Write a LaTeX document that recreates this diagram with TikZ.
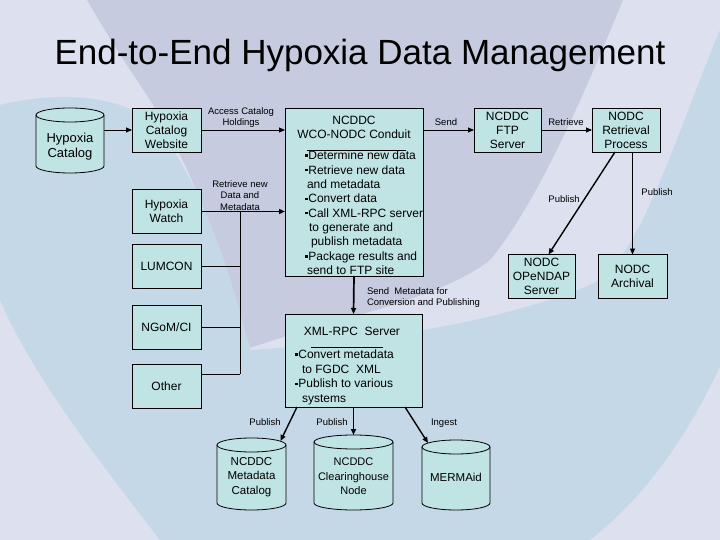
\documentclass[tikz,border=0pt]{standalone}
\usepackage{fontspec}
\setmainfont{Liberation Sans}
\usetikzlibrary{positioning, arrows.meta, calc}

\definecolor{boxfill}{RGB}{192,227,228}
\definecolor{bgpale}{RGB}{221,224,239}
\definecolor{bgmauve}{RGB}{198,203,224}
\definecolor{bgblue}{RGB}{197,216,231}
\pgfdeclarelayer{back}
\pgfdeclarelayer{drums}
\pgfsetlayers{back,drums,main}
\newcommand{\sqb}{\rule[2.6pt]{2.6pt}{2.6pt}\hspace{0.8pt}}
\newcommand{\dropped}[2]{\raisebox{-#1}[\height][\depth]{\begin{tabular}{@{}c@{}}#2\end{tabular}}}
\newcommand{\drumbody}[2]{%
  \begin{pgfonlayer}{drums}
    \draw[fill=boxfill,line width=0.8pt]([yshift=-7pt]#1.north west)--([yshift=7pt]#1.south west)
      arc[start angle=180,end angle=360,x radius=#2pt,y radius=7pt]--([yshift=-7pt]#1.north east)
      arc[start angle=0,end angle=180,x radius=#2pt,y radius=7pt]--cycle;
    \draw[line width=0.8pt]([yshift=-7pt]#1.north west)
      arc[start angle=180,end angle=360,x radius=#2pt,y radius=7pt];
  \end{pgfonlayer}}

\begin{document}
\begin{tikzpicture}[x=1pt,y=-1pt,every node/.style={inner sep=0,outer sep=0},
    box/.style={draw,fill=boxfill,line width=0.8pt,minimum width=69pt,minimum height=44pt,
                align=center,font=\fontsize{12}{14}\selectfont},
    drum/.style={align=center,font=\fontsize{11.5}{14.5}\selectfont},
    lbl/.style={align=center,font=\fontsize{9.5}{11.5}\selectfont},
    feed/.style={line width=0.8pt,-{Triangle[length=6pt,width=5pt]}},
    heavy/.style={line width=1.7pt,-{Triangle[length=6pt,width=5pt]}}]
      \useasboundingbox (0,0) rectangle (720,540);
      \begin{pgfonlayer}{back}
      \fill[bgpale] (0,0) rectangle (720,540);
      \fill[bgmauve] (87,0) .. controls (110,40) and (130,70) .. (150,100)
            .. controls (200,180) and (230,280) .. (250,348)
            .. controls (330,320) and (440,300) .. (490,260)
            .. controls (540,200) and (590,80) .. (623,0) -- cycle;
      \fill[bgblue] (0,105) .. controls (60,90) and (130,95) .. (160,130)
            .. controls (210,200) and (235,290) .. (250,350)
            .. controls (330,345) and (480,330) .. (590,285)
            .. controls (640,260) and (670,150) .. (720,30) -- (720,367)
            .. controls (680,450) and (640,500) .. (590,540) -- (160,540)
            .. controls (90,450) and (30,370) .. (0,300) -- cycle;
      \end{pgfonlayer}

      \node(title)[anchor=base,font=\fontsize{35}{40}\selectfont] at (360,65) {End-to-End Hypoxia Data Management};

      \node(hcat)[drum,minimum width=68pt,minimum height=65pt,font=\fontsize{13}{15}\selectfont] at (70,140.5) {\dropped{7pt}{Hypoxia\\Catalog}};
      \node(hweb)[box] at (166.5,130) {Hypoxia\\Catalog\\Website};
      \node(hwatch)[box] at (166.5,211.5) {Hypoxia\\Watch};
      \node(lumcon)[box,below=11pt of hwatch] {LUMCON};
      \node(ngom)[box,below=17pt of lumcon] {NGoM/CI};
      \node(other)[box,below=15pt of ngom] {Other};

      \node(conduit)[draw,fill=boxfill,line width=0.8pt,minimum width=138pt,minimum height=168pt] at (354,192) {};
      \node(cndhead)[align=center,font=\fontsize{12}{14}\selectfont] at (354,127.5) {NCDDC\\WCO-NODC Conduit};
      \node(cndlist)[anchor=north west,align=left,font=\fontsize{12}{14.35}\selectfont] at (305,151) {%
        \sqb Determine new data\\
        \sqb Retrieve new data\\
        \hspace*{2pt}and metadata\\
        \sqb Convert data\\
        \sqb Call XML-RPC server\\
        \hspace*{4pt}to generate and\\
        \hspace*{6pt}publish metadata\\
        \sqb Package results and\\
        \hspace*{2pt}send to FTP site};
      \draw[line width=0.8pt] (307,150) -- (406,150);

      \node(ftp)[box,minimum width=67pt] at (507.5,130) {NCDDC\\FTP\\Server};
      \node(nret)[box,minimum width=68pt] at (626,130) {NODC\\Retrieval\\Process};
      \node(opendap)[box,minimum width=67pt] at (541.5,276.5) {NODC\\OPeNDAP\\Server};
      \node(archive)[box] at (632.5,276.5) {NODC\\Archival};

      \node(xmlrpc)[draw,fill=boxfill,line width=0.8pt,minimum width=137pt,minimum height=93pt] at (353.5,360.5) {};
      \node(xmlhead)[font=\fontsize{12}{14}\selectfont] at (352,331) {XML-RPC\ \ Server};
      \node(xmllist)[anchor=north west,align=left,font=\fontsize{12}{14.6}\selectfont] at (295,350) {%
        \sqb Convert metadata\\
        \hspace*{7pt}to FGDC\ \ XML\\
        \sqb Publish to various\\
        \hspace*{7pt}systems};
      \draw[line width=0.8pt] (311,347) -- (383,347);

      \node(mcat)[drum,minimum width=69pt,minimum height=72pt] at (251.5,474) {\dropped{3pt}{NCDDC\\Metadata\\Catalog}};
      \node(chnode)[drum,minimum width=79pt,minimum height=75pt,font=\fontsize{11}{14.5}\selectfont] at (353.5,472.5) {\dropped{5pt}{NCDDC\\Clearinghouse\\Node}};
      \node(merm)[drum,minimum width=68pt,minimum height=70pt] at (456,475) {\dropped{4pt}{MERMAid}};
      \drumbody{hcat}{34}
      \drumbody{mcat}{34.5}
      \drumbody{chnode}{39.5}
      \drumbody{merm}{34}

      \coordinate(bustop) at (240,211.5);
      \coordinate(busbot) at (240,374);

      \draw[feed](hweb.west -| hcat.east)--(hweb.west);
      \draw[feed](hweb.east)--(hweb.east -| conduit.west);
      \draw[heavy](hwatch.east)--(hwatch.east -| conduit.west);
      \draw[line width=0.8pt](bustop)--(busbot);
      \draw[line width=0.8pt](lumcon.east)--(lumcon.east -| bustop);
      \draw[line width=0.8pt](ngom.east)--(ngom.east -| bustop);
      \draw[line width=0.8pt](other.east |- busbot)--(busbot);
      \draw[feed](conduit.east |- ftp.west)--(ftp.west);
      \draw[feed](ftp.east)--(nret.west);
      \draw[feed,line width=1.4pt]([xshift=-11pt]nret.south)--([xshift=7pt]opendap.north);
      \draw[feed](archive.north |- nret.south)--(archive.north);
      \draw[heavy](conduit.south)--(xmlrpc.north);
      \draw[feed,line width=1.4pt]([xshift=12pt]xmlrpc.south west)--([xshift=29pt,yshift=-3pt]mcat.north);
      \draw[heavy](xmlrpc.south -| chnode.north)--(chnode.north);
      \draw[feed,line width=1.4pt]([xshift=-17pt]xmlrpc.south east)--([xshift=-28pt,yshift=-3pt]merm.north);

      \node(lacc)[lbl] at (241,117.5) {Access Catalog\\Holdings};
      \node(lret)[lbl] at (240,195.5) {Retrieve new\\Data and\\Metadata};
      \node(lsend)[lbl] at (446,122) {Send};
      \node(lget)[lbl] at (566,122) {Retrieve};
      \node(lpubo)[lbl] at (564,199) {Publish};
      \node(lpuba)[lbl] at (657,192) {Publish};
      \node(lmeta)[lbl,align=left,anchor=west] at (367,297.5) {Send\ \ Metadata for\\Conversion and Publishing};
      \node(lpubm)[lbl] at (265,422) {Publish};
      \node(lpubc)[lbl] at (332,422) {Publish};
      \node(ling)[lbl] at (444,423) {Ingest};
\end{tikzpicture}
\end{document}
